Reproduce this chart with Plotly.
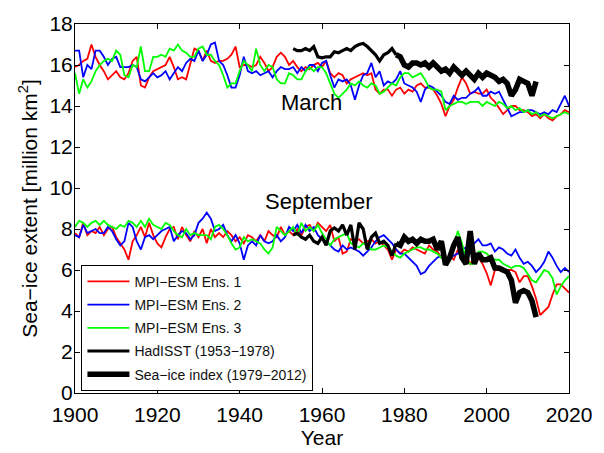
import plotly.graph_objects as go

YEARS = list(range(1900, 2021))

MAR_ENS1 = [15.9, 16.0, 16.2, 16.3, 17.0, 16.4, 16.0, 15.7, 15.3, 15.5,
            15.7, 15.4, 15.3, 15.6, 16.2, 16.4, 15.0, 14.9, 15.4, 15.7,
            15.8, 15.9, 16.0, 16.4, 15.9, 15.3, 15.4, 15.3, 16.0, 16.8,
            16.7, 16.2, 16.7, 16.2, 16.1, 16.2, 16.2, 16.3, 16.5, 16.9,
            15.9, 16.0, 16.0, 15.9, 16.0, 16.4, 16.1, 15.7, 15.9, 16.4,
            16.6, 16.4, 16.0, 16.2, 15.9, 15.7, 15.9, 15.8, 16.0, 16.1,
            15.9, 16.2, 15.6, 15.4, 15.6, 15.5, 15.1, 15.3, 15.4, 15.5,
            15.6, 15.5, 15.6, 14.8, 14.6, 14.8, 14.8, 14.5, 14.8, 14.9,
            14.6, 14.8, 14.7, 15.0, 15.1, 14.9, 14.9, 14.8, 14.5, 14.1,
            13.5, 14.0, 14.3, 14.9, 15.4, 15.1, 14.6, 14.7, 14.6, 14.6,
            14.8, 14.4, 14.2, 13.9, 13.6, 13.8, 14.0, 14.0, 13.8, 13.8,
            13.7, 13.5, 13.6, 13.4, 13.6, 13.4, 13.3, 13.5, 13.6, 13.8, 13.7]

MAR_ENS2 = [16.7, 16.7, 15.4, 16.0, 15.8, 16.7, 16.7, 16.4, 16.0, 16.3,
            16.4, 15.9, 15.9, 15.9, 16.0, 15.9, 15.3, 15.2, 15.4, 15.6,
            15.4, 15.5, 15.7, 15.3, 15.6, 15.9, 15.7, 16.1, 16.3, 16.2,
            16.7, 16.2, 16.5, 17.0, 17.1, 16.2, 16.0, 15.5, 14.9, 14.9,
            15.5, 16.4, 15.7, 15.6, 15.7, 15.5, 15.6, 15.7, 15.4, 15.7,
            15.9, 15.8, 15.8, 15.9, 15.6, 15.9, 15.7, 16.0, 16.0, 15.7,
            16.1, 16.2, 15.5, 14.9, 15.3, 15.2, 15.3, 15.0, 14.3, 15.0,
            15.5, 15.6, 16.1, 15.4, 15.7, 15.0, 15.2, 15.1, 15.3, 15.7,
            15.1, 15.0, 14.9, 14.7, 14.2, 14.8, 15.0, 14.9, 14.7, 14.5,
            14.2, 14.1, 14.5, 14.3, 14.4, 14.4, 14.6, 14.7, 14.9, 14.5,
            14.5, 14.7, 14.6, 14.7, 14.3, 13.9, 13.5, 13.6, 13.7, 13.7,
            13.8, 13.8, 13.7, 13.6, 13.7, 13.6, 13.8, 13.7, 14.1, 14.5, 14.0]

MAR_ENS3 = [15.6, 14.6, 15.3, 14.9, 15.2, 15.7, 16.0, 16.2, 16.3, 16.2,
            16.7, 16.5, 15.5, 15.4, 16.0, 15.9, 16.9, 15.7, 15.7, 16.4,
            16.4, 16.5, 16.4, 16.8, 16.7, 17.0, 16.7, 16.6, 16.4, 16.4,
            16.8, 16.9, 16.5, 16.5, 16.2, 16.0, 15.5, 14.9, 15.1, 15.1,
            15.7, 16.2, 16.0, 15.7, 16.8, 16.0, 15.7, 16.0, 15.9, 15.3,
            15.1, 15.1, 15.6, 15.5, 15.3, 15.3, 15.7, 15.9, 15.7, 15.9,
            15.9, 15.6, 15.1, 14.6, 14.4, 14.6, 14.8, 15.1, 15.0, 15.2,
            15.0, 14.9, 15.1, 15.0, 14.6, 14.7, 14.9, 15.1, 15.0, 15.4,
            15.6, 15.6, 15.4, 15.5, 15.6, 15.3, 14.9, 14.8, 14.8, 14.7,
            13.8, 14.0, 14.1, 14.2, 14.2, 14.1, 14.2, 14.2, 14.2, 14.0,
            14.2, 14.1, 14.0, 14.2, 14.1, 13.9, 14.0, 13.8, 13.9, 13.7,
            13.8, 13.6, 13.7, 13.5, 13.6, 13.5, 13.4, 13.5, 13.6, 13.7, 13.6]

SEP_ENS1 = [7.8, 7.6, 8.3, 7.7, 7.9, 7.8, 8.1, 7.7, 8.0, 8.1,
            7.6, 7.3, 7.0, 6.5, 7.4, 7.7, 8.1, 7.6, 8.3, 7.7,
            7.3, 7.1, 7.6, 8.0, 8.1, 7.5, 8.1, 7.7, 7.4, 7.9,
            7.6, 8.0, 7.3, 8.0, 7.6, 7.8, 7.6, 7.9, 7.7, 7.4,
            7.6, 7.3, 7.7, 7.6, 7.4, 7.7, 7.4, 7.9, 7.7, 7.6,
            8.1, 7.7, 7.9, 7.7, 8.0, 7.7, 8.1, 8.2, 7.9, 8.3,
            8.1, 7.9, 8.2, 7.4, 7.6, 6.8, 6.9, 7.5, 7.4, 7.5,
            7.3, 7.4, 7.5, 7.3, 7.4, 7.2, 7.0, 6.5, 7.0, 6.8,
            7.0, 6.9, 7.1, 7.0, 6.9, 6.8, 7.2, 7.0, 6.9, 6.6,
            6.5, 6.7, 6.5, 7.0, 6.6, 6.7, 6.3, 6.6, 6.6, 6.3,
            5.85, 5.25, 6.0, 6.0, 5.9, 6.0, 6.0, 5.9, 5.4, 5.7,
            5.7, 5.2, 4.6, 3.8, 4.0, 4.2, 4.8, 5.3, 5.3, 5.1, 4.9]

SEP_ENS2 = [7.7, 7.6, 8.2, 7.8, 7.9, 8.0, 7.8, 7.8, 8.1, 7.9,
            7.5, 7.2, 7.4, 8.3, 8.1, 7.4, 7.0, 7.6, 7.7, 7.5,
            7.7, 7.9, 8.0, 8.1, 7.4, 7.7, 7.9, 7.8, 7.5, 7.7,
            8.3, 8.5, 8.8, 8.5, 7.9, 8.0, 8.2, 7.7, 7.4, 7.7,
            7.3, 6.5, 7.2, 7.4, 7.2, 7.7, 7.4, 7.3, 7.4, 7.7,
            7.4, 7.6, 8.1, 7.9, 8.2, 7.8, 8.2, 7.9, 8.1, 7.7,
            7.5, 7.4, 7.2, 7.0, 6.9, 7.2, 7.0, 7.1, 7.0, 6.9,
            6.7, 6.9, 7.1, 7.4, 7.6, 7.7, 7.5, 7.3, 7.0, 6.8,
            6.8, 6.6, 6.4, 6.2, 5.8, 5.9, 6.2, 6.4, 6.6, 6.7,
            6.5, 6.6, 6.7, 6.8, 7.0, 7.1, 7.2, 7.3, 7.5, 7.2,
            7.2, 7.3, 6.9, 7.1, 7.0, 6.8, 6.7, 7.0, 6.6, 6.3,
            6.4, 6.2, 5.9, 6.1, 6.4, 6.9, 6.6, 6.2, 5.9, 6.1, 5.9]

SEP_ENS3 = [8.1, 8.4, 8.3, 8.1, 8.3, 8.4, 8.2, 8.4, 8.2, 8.1,
            8.0, 8.2, 8.1, 8.4, 8.3, 8.1, 8.4, 8.1, 8.5, 8.2,
            8.1, 8.0, 8.3, 8.2, 7.9, 7.7, 7.6, 8.0, 7.7, 7.8,
            7.7, 7.7, 7.7, 7.5, 8.1, 8.2, 8.0, 7.7, 7.3, 7.0,
            7.1, 7.6, 7.4, 7.5, 7.4, 7.3, 7.0, 6.8, 7.1, 8.1,
            7.9, 7.7, 7.9, 8.1, 7.7, 8.3, 7.9, 8.1, 7.9, 8.2,
            7.8, 7.5, 7.2, 7.5, 7.6, 7.7, 7.8, 7.3, 7.2, 7.1,
            7.3, 7.2, 7.0, 7.0, 7.1, 7.2, 7.1, 6.9, 6.7, 6.6,
            6.8, 6.9, 7.0, 7.1, 7.1, 7.0, 7.0, 6.9, 6.8, 6.6,
            6.4, 6.6, 7.2, 7.9, 7.3, 6.5, 6.3, 6.3, 6.9, 6.9,
            6.8, 6.6, 6.5, 6.5, 6.3, 6.2, 6.1, 6.2, 6.2, 6.1,
            5.8, 5.5, 5.4, 5.7, 6.0, 5.9, 5.6, 4.8, 5.2, 5.5, 5.7]

HAD_YEARS = list(range(1953, 1979))
HAD_MAR = [16.8, 16.7, 16.7, 16.8, 16.7, 16.9, 16.4, 16.35, 16.4, 16.4,
           16.65, 16.6, 16.7, 16.8, 16.7, 16.9, 17.0, 17.05, 16.9, 16.7,
           16.5, 16.2, 16.5, 16.6, 16.8, 16.5]
HAD_SEP = [7.7, 7.8, 7.6, 7.5, 7.7, 7.4, 7.3, 7.6, 7.2, 7.9,
           8.05, 7.9, 8.2, 7.7, 8.2, 7.0, 8.3, 8.0, 7.0, 7.6,
           7.8, 7.3, 7.4, 7.2, 6.7, 7.3]

SII_YEARS = list(range(1979, 2013))
SII_MAR = [16.4, 16.0, 15.9, 16.1, 16.1, 16.0, 16.1, 15.9, 16.1, 15.9,
           15.7, 15.8, 15.6, 15.9, 15.7, 15.5, 15.7, 15.5, 15.3, 15.6,
           15.4, 15.6, 15.5, 15.4, 15.2, 15.3, 15.1, 14.5, 14.8, 15.3,
           15.2, 15.1, 14.5, 15.2]
SII_SEP = [7.2, 7.6, 7.4, 7.5, 7.3, 7.5, 7.4, 7.4, 7.5, 7.0,
           7.4, 6.25, 6.6, 7.2, 7.6, 6.6, 6.3, 7.9, 6.3, 6.8,
           6.5, 6.5, 6.6, 6.1, 6.1, 6.0, 5.9, 5.5, 4.4, 4.9,
           5.0, 4.9, 4.5, 3.7]

NAMES = ["MPI\u2212ESM Ens. 1", "MPI\u2212ESM Ens. 2", "MPI\u2212ESM Ens. 3",
         "HadISST (1953\u22121978)", "Sea\u2212ice index (1979\u22122012)"]
COLORS = ["#ff0000", "#0000ff", "#00ff00", "#000000", "#000000"]
WIDTHS = [1.8, 1.8, 1.8, 3.2, 5.5]

X_TICKS = [1900, 1920, 1940, 1960, 1980, 2000, 2020]
Y_TICKS = [0, 2, 4, 6, 8, 10, 12, 14, 16, 18]

# the observational record is drawn continuously from HadISST into the sea-ice index
series = [
    (YEARS, MAR_ENS1, SEP_ENS1),
    (YEARS, MAR_ENS2, SEP_ENS2),
    (YEARS, MAR_ENS3, SEP_ENS3),
    (HAD_YEARS, HAD_MAR, HAD_SEP),
    ([HAD_YEARS[-1]] + SII_YEARS, [HAD_MAR[-1]] + SII_MAR, [HAD_SEP[-1]] + SII_SEP),
]

fig = go.Figure()
for i, (yrs, mar, sep) in enumerate(series):
    fig.add_trace(go.Scatter(
        x=list(yrs) + [None] + list(yrs),
        y=list(mar) + [None] + list(sep),
        mode="lines", name=NAMES[i], legendgroup=f"g{i}",
        connectgaps=False,
        line=dict(color=COLORS[i], width=WIDTHS[i]),
    ))

FONT = "Liberation Sans, Arial, Helvetica, sans-serif"

fig.add_annotation(x=1957.5, y=14.17, text="March", showarrow=False,
                   font=dict(family=FONT, size=22, color="black"))
fig.add_annotation(x=1959.2, y=9.35, text="September", showarrow=False,
                   font=dict(family=FONT, size=22, color="black"))

axis_common = dict(showline=True, linecolor="black", linewidth=1, mirror="ticks",
                   ticks="inside", ticklen=5, tickcolor="black", showgrid=False,
                   zeroline=False, tickfont=dict(family=FONT, size=21, color="black"))

fig.update_xaxes(range=[1900, 2020], tickvals=X_TICKS, ticklabelstandoff=3,
                 title=dict(text="Year", font=dict(family=FONT, size=21, color="black"), standoff=0),
                 **axis_common)
fig.update_yaxes(range=[0, 18], tickvals=Y_TICKS, ticklabelstandoff=-3,
                 title=dict(text="Sea\u2212ice extent [million km<sup>2</sup>]",
                            font=dict(family=FONT, size=21, color="black"), standoff=6),
                 **axis_common)

fig.update_layout(
    width=604, height=453,
    margin=dict(l=75, r=27, t=15, b=55),
    paper_bgcolor="white", plot_bgcolor="white",
    showlegend=True,
    legend=dict(x=0.013, y=0.006, xanchor="left", yanchor="bottom",
                bgcolor="white", bordercolor="black", borderwidth=1,
                font=dict(family=FONT, size=14, color="#111111"),
                tracegroupgap=2, itemwidth=42),
)

fig.write_html("out.html")
